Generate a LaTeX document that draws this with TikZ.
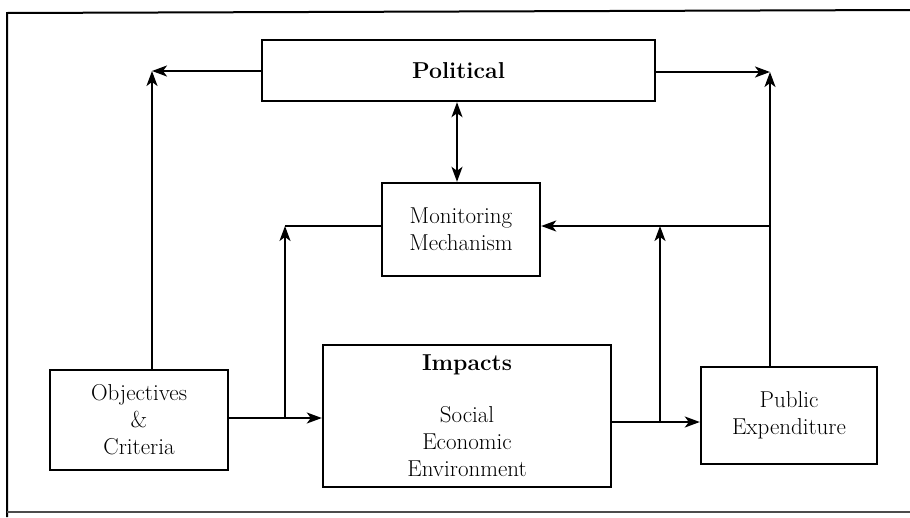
\documentclass[tikz,border=0pt]{standalone}
\usepackage{fontspec}
\usetikzlibrary{arrows.meta}
\begin{document}
\begin{tikzpicture}[x=1pt,y=-1pt,
  box/.style={draw, line width=2.4pt, inner sep=0pt, align=center,
    font=\fontsize{23}{27}\selectfont},
  link/.style={line width=1.9pt},
  arr/.style={link, -{Stealth[length=15pt,width=11pt,inset=4pt]}},
  frame/.style={line width=2pt}]
\useasboundingbox (0,0) rectangle (910,517);

% page frame
\draw[frame] (910,10) -- (7,13) -- (7,517);
\draw[line width=1.4pt, black!70] (7,512) -- (910,512);

% boxes
\node[box, minimum width=393pt, minimum height=61pt] (pol) at (458.5,70.5) {\textbf{Political}};
\node[box, minimum width=158pt, minimum height=93pt] (mon) at (461,229.5) {Monitoring\\Mechanism};
\node[box, minimum width=178pt, minimum height=100pt] (obj) at (139,420) {Objectives\\\&\\Criteria};
\node[box, minimum width=288pt, minimum height=142pt] (imp) at (467,416) {\textbf{Impacts}\\[25pt]Social\\Economic\\Environment};
\node[box, minimum width=176pt, minimum height=97pt] (pub) at (789,415.5) {Public\\Expenditure};

% corners and junctions of the connectors
\coordinate (tl) at (152,71);
\coordinate (tr) at (770,72);
\coordinate (ml) at (285,226);
\coordinate (mr) at (770,226);
\coordinate (jl) at (285,418);
\coordinate (jr) at (660,422);
\coordinate (jm) at (660,226);
\coordinate (vx) at (457,0);

% top loop through Political
\draw[arr] (pol.west |- tl) -- (tl);
\draw[arr] (obj.north -| tl) -- (tl);
\draw[arr] (pol.east |- tr) -- (tr);
\draw[arr] (pub.north -| tr) -- (tr);
\draw[link, {Stealth[length=15pt,width=11pt,inset=4pt]}-{Stealth[length=15pt,width=11pt,inset=4pt]}] (pol.south -| vx) -- (mon.north -| vx);

% monitoring feedback
\draw[link] (mon.west |- ml) -- (ml);
\draw[arr] (jl) -- (ml);
\draw[arr] (mr) -- (mon.east |- mr);
\draw[arr] (jr) -- (jm);

% main flow
\draw[arr] (obj.east |- jl) -- (imp.west |- jl);
\draw[arr] (imp.east |- jr) -- (pub.west |- jr);
\end{tikzpicture}
\end{document}
